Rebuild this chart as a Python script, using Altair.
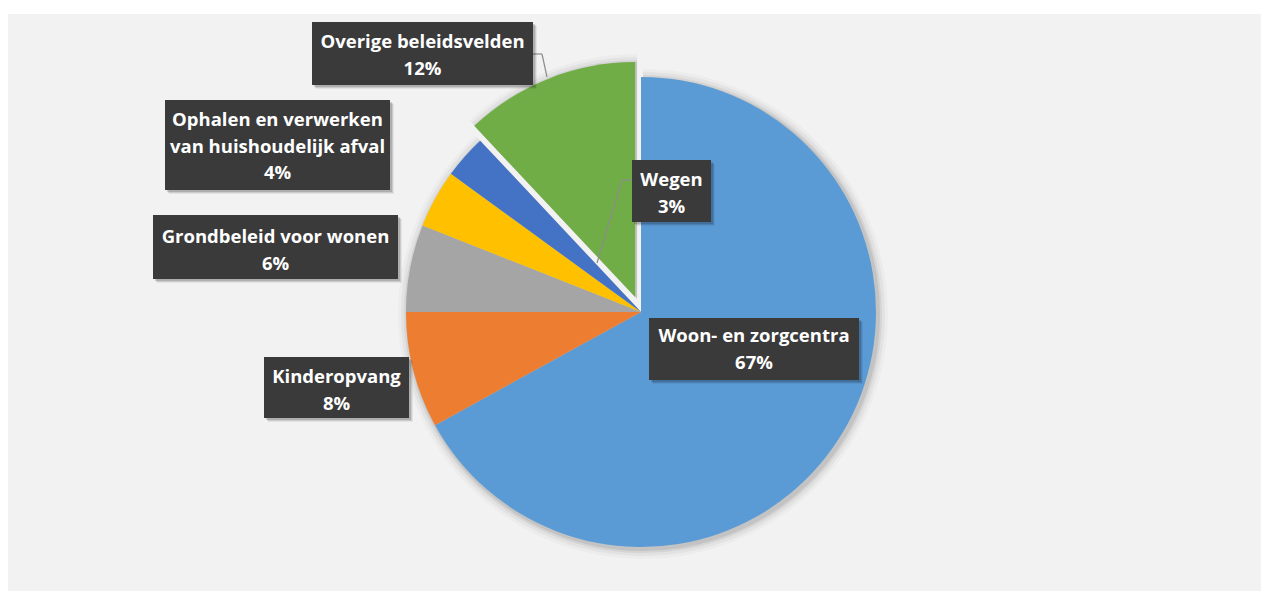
import math
import altair as alt
import pandas as pd

# ---- data ----
categories = ["Woon- en zorgcentra", "Kinderopvang", "Grondbeleid voor wonen",
              "Ophalen en verwerken van huishoudelijk afval", "Wegen", "Overige beleidsvelden"]
values = [67, 8, 6, 4, 3, 12]
label_text = [
    "Woon- en zorgcentra\n67%",
    "Kinderopvang\n8%",
    "Grondbeleid voor wonen\n6%",
    "Ophalen en verwerken\nvan huishoudelijk afval\n4%",
    "Wegen\n3%",
    "Overige beleidsvelden\n12%",
]
colors = ["#5B9BD5", "#ED7D31", "#A5A5A5", "#FFC000", "#4472C4", "#70AD47"]

# ---- layout (pixels, relative to plot area) ----
OX, OY = 8, 14          # page position of plot area origin
W, H = 1253, 577
CX, CY = 641 - OX, 312 - OY
R = 235
EXPLODE = 16
# label box extents (page coords): x0, x1, y0, y1, first-line y
label_boxes = [
    (649, 859, 318, 380, 336),
    (264, 409, 357, 418, 377),
    (153, 398, 215, 279, 237),
    (165, 390, 100, 190, 120),
    (632, 711, 160, 222, 180),
    (312, 533, 22, 85, 42),
]
# leader segments (page coords)
leader_segments = [
    (533, 54, 542, 54), (542, 54, 547, 77),
    (632, 180, 622, 180), (622, 180, 597, 263),
]

df = pd.DataFrame({
    "category": categories,
    "value": values,
    "order": list(range(len(categories))),
})

boxes = pd.DataFrame({
    "category": categories,
    "label": label_text,
    "x0": [b[0] - OX for b in label_boxes],
    "x1": [b[1] - OX for b in label_boxes],
    "y0": [b[2] - OY for b in label_boxes],
    "y1": [b[3] - OY for b in label_boxes],
    "yt": [b[4] - OY for b in label_boxes],
})
boxes["xc"] = (boxes["x0"] + boxes["x1"]) / 2

segs = pd.DataFrame({
    "x0": [s[0] - OX for s in leader_segments],
    "y0": [s[1] - OY for s in leader_segments],
    "x1": [s[2] - OX for s in leader_segments],
    "y1": [s[3] - OY for s in leader_segments],
})

theta_scale = alt.Scale(domain=[0, 100], range=[0, 2 * math.pi])
color_scale = alt.Scale(domain=categories, range=colors)

base = alt.Chart(df).transform_stack(
    stack="value", as_=["start", "end"], groupby=[],
    sort=[alt.SortField("order", order="ascending")],
)

mid = (sum(values) - values[-1] / 2) / 100 * 2 * math.pi
dx = EXPLODE * math.sin(mid)
dy = -EXPLODE * math.cos(mid)

def arcs(filter_expr, xoff=0, yoff=0, radius=R, color=None, opacity=1.0):
    enc = dict(
        theta=alt.Theta("start:Q", scale=theta_scale),
        theta2="end:Q",
        x=alt.value(CX),
        y=alt.value(CY),
    )
    if color is None:
        enc["color"] = alt.Color("category:N", scale=color_scale, legend=None)
    else:
        enc["color"] = alt.value(color)
    return base.transform_filter(filter_expr).mark_arc(
        radius=radius, xOffset=xoff, yOffset=yoff, opacity=opacity
    ).encode(**enc)

last = categories[-1]
not_last = f"datum.category != '{last}'"
is_last = f"datum.category == '{last}'"

shadow_layers = []
for extra, op in [(10, 0.025), (7, 0.04), (4, 0.06), (2, 0.08)]:
    shadow_layers.append(arcs(not_last, 2, 2, R + extra, "#000000", op))
    shadow_layers.append(arcs(is_last, dx + 2, dy + 2, R + extra, "#000000", op))

pie_main = arcs(not_last)
pie_explode = arcs(is_last, dx, dy)

box_shadows = []
for off, op in [(4, 0.06), (3, 0.1), (2, 0.14)]:
    s = boxes.copy()
    for c in ["x0", "x1", "y0", "y1"]:
        s[c] = s[c] + off
    box_shadows.append(alt.Chart(s).mark_rect(color="#000000", opacity=op).encode(
        x=alt.X("x0:Q", scale=None), x2="x1:Q",
        y=alt.Y("y0:Q", scale=None), y2="y1:Q",
    ))
box = alt.Chart(boxes).mark_rect(color="#3A3A3A").encode(
    x=alt.X("x0:Q", scale=None), x2="x1:Q",
    y=alt.Y("y0:Q", scale=None), y2="y1:Q",
)
txt = alt.Chart(boxes).mark_text(
    color="white", font="Open Sans", fontWeight="bold", fontSize=18.5,
    lineBreak="\n", lineHeight=26.5, align="center", baseline="middle",
).encode(
    x=alt.X("xc:Q", scale=None),
    y=alt.Y("yt:Q", scale=None),
    text="label:N",
)
leaders = alt.Chart(segs).mark_rule(color="#8C8C8C", strokeWidth=1.2).encode(
    x=alt.X("x0:Q", scale=None), x2="x1:Q",
    y=alt.Y("y0:Q", scale=None), y2="y1:Q",
)

chart = alt.layer(
    *shadow_layers, pie_main, pie_explode, leaders, *box_shadows, box, txt
).properties(
    width=W, height=H,
    padding={"left": 0, "top": OY - 8, "right": 0, "bottom": 0},
    autosize=alt.AutoSizeParams(type="none"),
    background="white",
).configure_view(fill="#F2F2F2", stroke=None)

chart.save("out.html", embed_options={"renderer": "svg", "actions": False})
